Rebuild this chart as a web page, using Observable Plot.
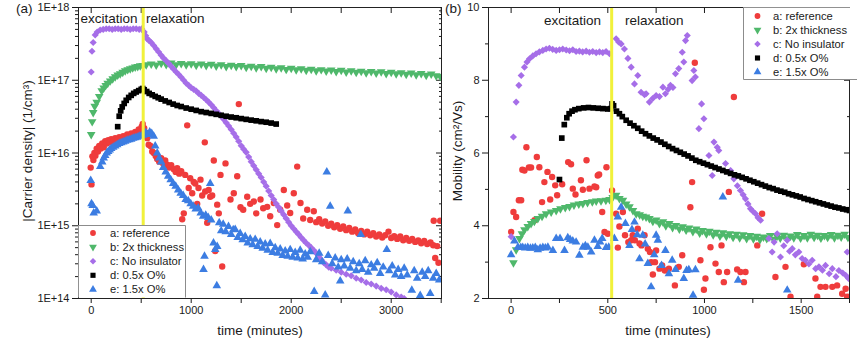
<!DOCTYPE html>
<html><head><meta charset="utf-8">
<script src="https://cdn.jsdelivr.net/npm/d3@7"></script>
<script src="https://cdn.jsdelivr.net/npm/@observablehq/plot@0.6"></script>
<style>
body{margin:0;background:#fff;}
#chart{position:relative;width:857px;height:347px;overflow:hidden;background:#fff;}
#chart svg{position:absolute;top:0;}
</style></head><body><div id="chart"></div>
<script>
// ---------- Panel (a): carrier density, [time (min), density (1/cm^3)] ----------
const densityRef = [[-5,6.3e15],[3,3.7e15],[12,9.0e15],[22,8.0e15],[32,1.0e16],[42,9.2e15],[55,1.15e16],[68,1.05e16],[80,1.25e16],[95,1.15e16],[110,1.35e16],[125,1.2e16],[140,1.45e16],[155,1.35e16],[170,1.5e16],[185,1.4e16],[200,1.55e16],[220,1.45e16],[240,1.6e16],[260,1.5e16],[280,1.65e16],[300,1.55e16],[320,1.7e16],[340,1.62e16],[360,1.8e16],[380,1.7e16],[400,1.85e16],[420,1.75e16],[440,1.95e16],[460,1.85e16],[475,2.1e16],[490,2.0e16],[505,2.3e16],[515,2.5e16],
[530,2.2e16],[545,1.9e16],[560,1.6e16],[575,1.3e16],[593,1.25e16],[610,1.05e16],[626,1.0e16],[645,9.1e15],[660,8.3e15],[680,7.6e15],[700,8.5e15],[720,7.2e15],[740,7.9e15],[760,6.9e15],[780,6.3e15],[800,6.8e15],[826,6.0e15],[845,5.5e15],[860,6.2e15],[880,5.2e15],[900,5.6e15],[910,1.23e15],[926,1.48e15],[940,5.0e15],[960,2.4e16],[975,3.3e15],[990,4.5e15],[1010,2.8e15],[1025,4.0e15],[1040,3.8e15],[1060,2.0e15],[1073,3.3e15],[1093,4.3e15],[1110,2.6e15],[1136,1.4e16],[1140,2.95e15],[1160,1.1e15],[1175,3.1e15],[1190,2.5e15],[1210,2.6e15],[1226,7.9e15],[1240,4.5e14],[1260,1.95e15],[1276,1.48e15],[1293,5.0e15],[1310,2.75e14],[1343,7.2e15],[1393,2.3e15],[1426,2.8e15],[1460,4.8e15],[1476,4.7e16],[1493,1.8e15],[1520,1.66e15],[1560,2.5e15],[1590,2.0e15],[1626,2.15e15],[1650,1.48e15],[1693,2.3e15],[1720,1.74e15],[1760,1.82e15],[1790,1.35e15],[1826,2.05e15],[1860,1.02e15],[1890,1.66e15],[1926,3.1e15],[1960,1.9e15],[1990,1.5e15],[2026,2.8e15],[2060,6.5e15],[2093,2.05e15],[2120,1.26e15],[2160,1.66e15],[2190,1.2e15],[2226,1.58e15],[2250,1.12e15],[2280,1.23e15],[2310,1.07e15],[2340,1.15e15],[2370,1.0e15],[2400,1.07e15],[2430,9.5e14],[2460,1.02e15],[2490,9.1e14],[2520,9.8e14],[2550,8.7e14],[2580,9.3e14],[2610,8.3e14],[2640,8.9e14],[2670,7.9e14],[2700,8.5e14],[2730,7.6e14],[2760,8.3e14],[2790,7.4e14],[2820,7.9e14],[2850,7.1e14],[2880,7.6e14],[2910,6.9e14],[2940,7.4e14],[2973,8.3e14],[3000,6.8e14],[3030,7.2e14],[3060,6.6e14],[3090,7.1e14],[3120,6.3e14],[3150,6.8e14],[3180,6.2e14],[3210,6.6e14],[3240,6.0e14],[3270,6.3e14],[3300,5.75e14],[3330,6.2e14],[3360,5.6e14],[3393,5.9e14],[3420,5.4e14],[3425,1.17e15],[3440,3.6e14],[3460,5.25e14],[3473,3.1e14],[3490,1.17e15]];

const densityThick = [[0,1.8e16],[10,2.7e16],[20,3.6e16],[35,4.4e16],[55,5.0e16],[80,6.0e16],[105,7.2e16],[125,7.8e16],[145,8.5e16],[165,9.1e16],[190,9.8e16],[215,1.05e17],[240,1.12e17],[265,1.18e17],[290,1.23e17],[315,1.29e17],[340,1.35e17],[365,1.4e17],[390,1.44e17],[415,1.48e17],[440,1.52e17],[465,1.55e17],[490,1.58e17],[515,1.6e17],
[550,1.63e17],[600,1.67e17],[650,1.62e17],[700,1.71e17],[750,1.65e17],[800,1.73e17],[850,1.64e17],[900,1.7e17],[950,1.63e17],[1000,1.69e17],[1050,1.61e17],[1100,1.67e17],[1150,1.59e17],[1200,1.66e17],[1250,1.57e17],[1300,1.63e17],[1350,1.55e17],[1400,1.61e17],[1450,1.54e17],[1500,1.59e17],[1550,1.51e17],[1600,1.56e17],[1650,1.49e17],[1700,1.54e17],[1750,1.46e17],[1800,1.51e17],[1850,1.44e17],[1900,1.49e17],[1950,1.41e17],[2000,1.46e17],[2050,1.39e17],[2100,1.44e17],[2150,1.37e17],[2200,1.42e17],[2250,1.35e17],[2300,1.4e17],[2350,1.34e17],[2400,1.38e17],[2450,1.32e17],[2500,1.37e17],[2550,1.3e17],[2600,1.35e17],[2650,1.29e17],[2700,1.33e17],[2750,1.27e17],[2800,1.32e17],[2850,1.26e17],[2900,1.31e17],[2950,1.24e17],[3000,1.29e17],[3050,1.23e17],[3100,1.27e17],[3150,1.21e17],[3200,1.26e17],[3250,1.19e17],[3300,1.24e17],[3350,1.17e17],[3400,1.22e17],[3450,1.15e17],[3490,1.13e17]];

const densityNoIns = [[0,1.3e17],[8,2.5e17],[20,3.3e17],[40,4.2e17],[60,4.6e17],[90,4.9e17],[120,5.0e17],[150,5.1e17],[180,5.1e17],[210,5.0e17],[240,5.1e17],[270,5.1e17],[300,5.0e17],[330,5.1e17],[360,5.1e17],[390,5.0e17],[420,5.1e17],[450,5.1e17],[480,5.0e17],[505,5.1e17],[530,4.6e17],[545,4.1e17],[560,3.7e17],[580,3.5e17],[600,3.3e17],[625,3.0e17],[650,2.7e17],[675,2.45e17],[700,2.2e17],[725,2.0e17],[750,1.85e17],[775,1.7e17],[800,1.55e17],[825,1.42e17],[850,1.3e17],[875,1.2e17],[900,1.1e17],[925,1.0e17],[950,9.1e16],[975,8.5e16],[1000,7.9e16],[1025,7.5e16],[1050,7.1e16],[1075,6.6e16],[1100,6.2e16],[1125,5.8e16],[1150,5.4e16],[1175,5.0e16],[1200,4.6e16],[1225,4.2e16],[1250,3.8e16],[1275,3.5e16],[1300,3.2e16],[1325,2.9e16],[1350,2.6e16],[1375,2.35e16],[1400,2.1e16],[1425,1.87e16],[1450,1.66e16],[1475,1.45e16],[1500,1.26e16],[1525,1.13e16],[1550,1.02e16],[1575,8.8e15],[1600,7.6e15],[1625,6.7e15],[1650,5.9e15],[1675,5.2e15],[1700,4.6e15],[1725,4.0e15],[1750,3.5e15],[1775,3.0e15],[1800,2.6e15],[1825,2.3e15],[1850,2.0e15],[1875,1.8e15],[1900,1.6e15],[1925,1.42e15],[1950,1.26e15],[1975,1.12e15],[2000,1.0e15],[2025,9.1e14],[2050,8.3e14],[2075,7.6e14],[2100,6.9e14],[2125,6.3e14],[2150,5.8e14],[2175,5.4e14],[2200,5.0e14],[2225,4.6e14],[2250,4.2e14],[2275,3.8e14],[2300,3.4e14],[2325,3.1e14],[2350,2.9e14],[2375,2.7e14],[2400,2.6e14],[2450,2.45e14],[2500,2.3e14],[2550,2.15e14],[2600,2.05e14],[2650,1.9e14],[2700,1.8e14],[2750,1.66e14],[2800,1.58e14],[2850,1.48e14],[2900,1.38e14],[2950,1.32e14],[3000,1.23e14],[3050,1.12e14],[3100,1.05e14],[3130,1.0e14]];

const densityLowO = [[265,2.3e16],[280,3.2e16],[295,3.8e16],[310,4.3e16],[330,4.8e16],[350,5.3e16],[375,5.8e16],[400,6.2e16],[425,6.6e16],[450,6.9e16],[475,7.2e16],[500,7.5e16],[515,7.7e16],[530,7.4e16],[555,7.0e16],[580,6.6e16],[610,6.3e16],[640,6.0e16],[670,5.75e16],[700,5.5e16],[740,5.2e16],[780,4.95e16],[820,4.7e16],[860,4.5e16],[900,4.35e16],[950,4.15e16],[1000,4.0e16],[1050,3.85e16],[1100,3.7e16],[1150,3.6e16],[1200,3.5e16],[1250,3.4e16],[1300,3.3e16],[1350,3.2e16],[1400,3.12e16],[1450,3.05e16],[1500,2.97e16],[1550,2.9e16],[1600,2.83e16],[1650,2.77e16],[1700,2.7e16],[1750,2.65e16],[1800,2.58e16],[1850,2.5e16]];

const densityHighO = [[-5,4.2e15],[3,2.0e15],[15,1.9e15],[25,1.5e15],[55,1.6e15],[90,6.5e15],[110,7.5e15],[125,8.5e15],[140,9.2e15],[155,1.0e16],[170,1.05e16],[185,1.1e16],[200,1.15e16],[220,1.2e16],[240,1.25e16],[260,1.3e16],[280,1.35e16],[300,1.38e16],[320,1.42e16],[340,1.45e16],[360,1.5e16],[380,1.52e16],[400,1.55e16],[420,1.6e16],[440,1.62e16],[460,1.65e16],[480,1.7e16],[500,1.72e16],[520,1.75e16],[545,1.9e16],[565,1.8e16],[585,1.95e16],[605,1.85e16],[625,1.7e16],
[640,1.25e16],[660,1.0e16],[680,8.5e15],[700,7.5e15],[720,6.3e15],[745,5.5e15],[770,4.8e15],[795,4.3e15],[820,3.8e15],[845,3.5e15],[870,3.1e15],[895,2.8e15],[920,2.6e15],[945,2.3e15],[970,2.2e15],[995,2.0e15],[1020,1.85e15],[1045,1.7e15],[1070,1.75e15],[1095,1.5e15],[1120,1.35e15],[1123,2.5e14],[1133,3.8e14],[1145,1.4e15],[1170,1.3e15],[1190,3.8e15],[1200,1.2e15],[1223,5.8e14],[1240,4.7e14],[1256,1.5e14],[1260,5.2e14],[1280,1.1e15],[1300,8.5e14],[1320,1.05e15],[1345,8.3e14],[1373,9.8e14],[1400,7.6e14],[1420,8.8e14],[1440,8.9e14],[1465,6.9e14],[1490,7.8e14],[1515,6.4e14],[1540,7.1e14],[1565,5.8e14],[1590,6.6e14],[1615,5.5e14],[1640,6.5e14],[1665,5.2e14],[1690,6.0e14],[1715,4.9e14],[1740,5.6e14],[1765,4.6e14],[1790,5.7e14],[1815,4.3e14],[1840,5.0e14],[1865,4.2e14],[1890,4.8e14],[1915,3.9e14],[1940,4.5e14],[1965,3.8e14],[1990,4.7e14],[2015,3.7e14],[2040,4.3e14],[2065,3.6e14],[2090,4.6e14],[2115,3.5e14],[2140,4.1e14],[2165,3.7e14],[2190,4.4e14],[2230,1.25e14],[2250,3.4e14],[2280,4.2e14],[2310,3.2e14],[2340,1.12e14],[2356,5.5e15],[2370,3.9e14],[2390,1.85e15],[2410,3.0e14],[2440,3.6e14],[2470,2.7e14],[2490,1.74e14],[2500,3.4e14],[2530,2.8e14],[2560,3.5e14],[2566,1.6e15],[2590,2.6e14],[2620,3.2e14],[2650,2.4e14],[2680,3.0e14],[2696,7.6e14],[2710,2.5e14],[2740,3.3e14],[2770,2.3e14],[2800,2.9e14],[2830,2.6e14],[2860,3.1e14],[2890,2.2e14],[2920,2.7e14],[2956,4.7e14],[2980,2.4e14],[3010,2.8e14],[3040,2.1e14],[3070,2.5e14],[3100,2.0e14],[3130,2.6e14],[3160,2.1e14],[3206,1.3e14],[3230,2.4e14],[3260,1.9e14],[3290,1.1e14],[3310,2.3e14],[3340,2.0e14],[3370,2.4e14],[3390,1.17e14],[3420,1.9e14],[3450,2.2e14],[3480,1.8e14]];

// ---------- Panel (b): mobility, [time (min), mobility (cm^2/Vs)] ----------
const mobilityRef = [[0,3.83],[12,4.38],[26,4.24],[40,4.7],[52,4.7],[58,5.54],[69,5.52],[79,6.16],[92,5.6],[103,5.6],[121,4.15],[133,5.89],[146,5.61],[160,4.65],[172,5.2],[188,5.48],[202,4.72],[212,5.34],[228,5.11],[238,4.84],[264,5.14],[295,5.75],[310,5.69],[319,5.02],[333,4.86],[361,5.25],[371,4.99],[390,5.8],[405,5.02],[431,5.08],[440,5.06],[448,5.38],[455,5.41],[471,4.38],[483,3.83],[493,5.61],[500,3.78],[522,4.97],[543,4.33],[552,3.4],[560,3.98],[578,4.38],[589,3.74],[606,3.55],[621,3.6],[629,3.74],[640,3.6],[655,3.92],[664,3.51],[674,3.46],[690,3.74],[707,3.37],[718,3.28],[724,3.0],[733,2.66],[744,3.0],[750,3.32],[767,2.82],[781,2.91],[795,2.77],[816,2.82],[847,2.36],[867,2.87],[885,3.19],[927,4.51],[936,5.2],[950,8.48],[979,3.05],[997,2.24],[1005,2.55],[1031,3.41],[1057,2.96],[1074,2.73],[1088,3.46],[1100,2.45],[1117,2.73],[1126,4.93],[1152,7.54],[1169,2.8],[1186,2.73],[1204,2.45],[1212,2.73],[1273,3.46],[1298,4.33],[1367,2.59],[1419,2.87],[1445,2.05],[1514,2.94],[1574,2.55],[1583,2.05],[1600,2.32],[1626,2.32],[1661,2.32],[1686,2.36],[1712,2.13],[1730,2.27],[1738,2.05]];

const mobilityThick = [[12,2.98],[26,3.34],[43,3.65],[56,3.78],[69,3.89],[86,3.98],[103,4.06],[120,4.12],[138,4.2],[160,4.26],[181,4.33],[207,4.38],[233,4.42],[255,4.47],[280,4.5],[302,4.53],[325,4.57],[350,4.6],[371,4.61],[395,4.64],[420,4.66],[440,4.68],[465,4.69],[490,4.7],[509,4.72],[525,4.78],[543,4.84],[560,4.75],[578,4.7],[595,4.6],[612,4.52],[630,4.42],[647,4.33],[665,4.3],[681,4.26],[698,4.24],[715,4.2],[733,4.12],[750,4.16],[767,4.06],[785,4.11],[800,4.0],[818,4.06],[835,3.95],[852,4.01],[870,3.91],[887,3.97],[905,3.88],[920,3.94],[940,3.84],[957,3.91],[975,3.8],[990,3.87],[1010,3.78],[1025,3.85],[1045,3.75],[1060,3.82],[1080,3.72],[1095,3.81],[1113,3.71],[1130,3.78],[1148,3.68],[1165,3.77],[1182,3.67],[1200,3.75],[1218,3.65],[1235,3.73],[1253,3.64],[1270,3.71],[1287,3.62],[1305,3.69],[1322,3.65],[1340,3.73],[1357,3.63],[1375,3.71],[1392,3.66],[1410,3.74],[1427,3.64],[1445,3.72],[1462,3.67],[1480,3.76],[1497,3.66],[1515,3.73],[1532,3.67],[1550,3.77],[1567,3.68],[1585,3.74],[1602,3.66],[1620,3.73],[1637,3.68],[1655,3.76],[1672,3.67],[1690,3.74],[1707,3.69],[1725,3.77],[1742,3.68]];

const mobilityNoIns = [[0,3.7],[12,6.44],[26,7.4],[40,7.86],[52,8.13],[69,8.36],[82,8.5],[95,8.59],[112,8.67],[129,8.73],[146,8.78],[164,8.82],[181,8.86],[198,8.88],[215,8.85],[233,8.82],[250,8.84],[267,8.86],[285,8.83],[302,8.81],[319,8.84],[336,8.79],[353,8.8],[370,8.78],[388,8.8],[405,8.77],[422,8.79],[440,8.76],[457,8.78],[474,8.76],[491,8.79],[509,8.73],[543,9.14],[556,9.05],[569,9.0],[586,8.86],[604,8.6],[621,8.36],[638,7.9],[655,8.13],[672,7.67],[690,7.6],[698,7.63],[715,7.4],[732,7.5],[750,7.58],[767,7.55],[785,7.81],[798,7.63],[812,7.75],[824,7.86],[837,7.8],[850,8.18],[867,8.32],[885,8.77],[893,8.5],[902,9.09],[911,9.23],[936,7.99],[945,8.27],[953,8.09],[971,6.67],[985,7.35],[997,6.94],[1023,5.93],[1040,5.38],[1049,6.3],[1066,6.16],[1074,6.07],[1109,5.71],[1135,5.52],[1152,5.29],[1170,5.1],[1186,4.97],[1200,4.85],[1212,4.74],[1225,4.6],[1238,4.47],[1250,4.4],[1264,4.33],[1277,4.22],[1290,4.15],[1333,3.65],[1350,3.28],[1360,3.55],[1376,3.78],[1393,3.14],[1410,3.45],[1428,3.6],[1440,3.3],[1454,3.37],[1470,3.2],[1488,3.28],[1505,3.1],[1522,3.05],[1540,2.95],[1557,3.05],[1575,2.82],[1592,2.87],[1610,2.78],[1626,2.91],[1645,2.68],[1661,2.82],[1680,2.6],[1695,2.77],[1715,2.7],[1730,2.64],[1738,3.28],[1745,2.55]];

const mobilityLowO = [[250,5.27],[262,6.41],[275,6.78],[288,6.97],[300,7.08],[315,7.15],[330,7.19],[350,7.22],[375,7.24],[400,7.25],[425,7.24],[450,7.23],[475,7.22],[500,7.21],[515,7.22],[522,7.35],[530,7.3],[545,7.15],[560,7.08],[575,7.0],[595,6.9],[615,6.82],[635,6.75],[655,6.68],[675,6.6],[695,6.53],[715,6.47],[735,6.41],[755,6.36],[775,6.3],[795,6.24],[815,6.18],[835,6.12],[855,6.07],[875,6.02],[895,5.97],[915,5.92],[935,5.86],[955,5.8],[975,5.76],[995,5.72],[1015,5.68],[1035,5.64],[1055,5.6],[1075,5.56],[1095,5.52],[1115,5.48],[1135,5.44],[1155,5.4],[1175,5.37],[1195,5.33],[1215,5.29],[1235,5.25],[1255,5.21],[1275,5.17],[1295,5.13],[1315,5.09],[1335,5.05],[1355,5.02],[1375,4.98],[1395,4.95],[1415,4.92],[1435,4.88],[1455,4.85],[1475,4.82],[1495,4.79],[1515,4.75],[1535,4.72],[1555,4.69],[1575,4.66],[1595,4.63],[1615,4.6],[1635,4.57],[1655,4.54],[1675,4.51],[1695,4.49],[1715,4.46],[1735,4.44],[1750,4.42]];

const mobilityHighO = [[0,3.2],[17,3.58],[35,3.41],[50,3.4],[60,3.4],[73,3.39],[86,3.4],[100,3.38],[112,3.39],[125,3.4],[138,3.34],[150,3.38],[164,3.4],[177,3.39],[190,3.41],[216,3.32],[233,3.65],[253,3.65],[276,3.32],[293,3.67],[305,3.62],[319,3.58],[336,3.55],[353,3.19],[371,3.41],[384,3.45],[397,3.41],[414,3.28],[431,3.6],[448,3.43],[460,3.55],[471,3.65],[491,3.4],[505,3.41],[534,3.65],[552,4.24],[569,4.51],[591,4.06],[612,3.46],[625,3.9],[638,4.1],[652,3.75],[664,3.09],[681,3.74],[693,3.5],[707,2.96],[724,2.32],[740,3.2],[750,3.74],[759,3.6],[778,2.91],[798,3.32],[816,2.68],[833,3.05],[850,2.8],[893,2.55],[907,2.77],[919,2.79],[941,2.09],[953,2.79],[1095,4.79],[1174,2.5],[1428,2.23]];

// ---------- labels, ticks, annotations ----------
const seriesLabels = ["a: reference", "b: 2x thickness", "c: No insulator", "d: 0.5x O%", "e: 1.5x O%"];
const densityTicks = [1e14, 1e15, 1e16, 1e17, 1e18];
const densityTickLabels = ["1E+14", "1E+15", "1E+16", "1E+17", "1E+18"];
const timeTicksA = [0, 1000, 2000, 3000];
const timeMinorA = [500, 1500, 2500, 3500];
const mobilityTicks = [2, 4, 6, 8, 10];
const mobilityMinor = [3, 5, 7, 9];
const timeTicksB = [0, 500, 1000, 1500];
const timeMinorB = [250, 750, 1250, 1750];
const switchTime = [520];
const phaseLabels = ["excitation", "relaxation"];

const RED = "#ef3c3c", GREEN = "#4fb86b", PURPLE = "#a66ee8", BLACK = "#000000", BLUE = "#3c7de2", YELLOW = "#f1f13a";
const FONT = "'Liberation Sans', Arial, sans-serif";
const triangleDown = { draw(context, size) { const s3 = Math.sqrt(3); const y = -Math.sqrt(size / (s3 * 3)); context.moveTo(0, -y * 2); context.lineTo(-s3 * y, y); context.lineTo(s3 * y, y); context.closePath(); } };
const styles = [
  {color: RED, symbol: "circle", d3: d3.symbolCircle},
  {color: GREEN, symbol: triangleDown, d3: triangleDown},
  {color: PURPLE, symbol: "diamond2", d3: d3.symbolDiamond2},
  {color: BLACK, symbol: "square", d3: d3.symbolSquare},
  {color: BLUE, symbol: "triangle", d3: d3.symbolTriangle}
];
const R = 3.2;
const dots = (data, i) => Plot.dot(data, {x: d => d[0], y: d => d[1], fill: styles[i].color, symbol: styles[i].symbol, r: R, stroke: "none", clip: true});

function frameAxes(xMaj, xMin, yMaj, yMin, yFmt) {
  return [
    Plot.axisX({ticks: xMaj, tickSize: 5, tickPadding: 3, tickFormat: d => String(d), label: null, fontSize: 11}),
    Plot.axisX({ticks: xMin, tickSize: 5, fill: "none", label: null}),
    Plot.axisX({anchor: "top", ticks: [...xMaj, ...xMin], tickSize: 5, dy: 5, fill: "none", label: null}),
    Plot.axisY({ticks: yMaj, tickSize: 6, tickPadding: 3, tickFormat: yFmt, label: null, fontSize: 11}),
    Plot.axisY({ticks: yMin, tickSize: 3, fill: "none", label: null}),
    Plot.axisY({anchor: "right", ticks: yMaj, tickSize: 6, dx: -6, fill: "none", label: null}),
    Plot.axisY({anchor: "right", ticks: yMin, tickSize: 3, dx: -3, fill: "none", label: null})
  ];
}

const minorLog = densityTicks.slice(0, -1).flatMap(d => [2,3,4,5,6,7,8,9].map(k => k * d));

const plotA = Plot.plot({
  width: 445, height: 347, marginLeft: 78, marginRight: 4, marginTop: 7, marginBottom: 49,
  style: {fontFamily: FONT, fontSize: "11px", color: "#1a1a1a", background: "transparent"},
  x: {domain: [-127, 3503]},
  y: {type: "log", domain: [1e14, 1e18]},
  marks: [
    ...frameAxes(timeTicksA, timeMinorA, densityTicks, minorLog, d => densityTickLabels[densityTicks.indexOf(d)]),
    dots(densityRef, 0), dots(densityThick, 1), dots(densityNoIns, 2), dots(densityLowO, 3), dots(densityHighO, 4),
    Plot.ruleX(switchTime, {stroke: YELLOW, strokeWidth: 3}),
    Plot.frame({stroke: "#222"})
  ]
});

const plotB = Plot.plot({
  width: 412, height: 347, marginLeft: 43, marginRight: 8, marginTop: 7, marginBottom: 49,
  style: {fontFamily: FONT, fontSize: "11px", color: "#1a1a1a", background: "transparent"},
  x: {domain: [-117, 1750]},
  y: {domain: [2, 10]},
  marks: [
    ...frameAxes(timeTicksB, timeMinorB, mobilityTicks, mobilityMinor, d => String(d)),
    dots(mobilityRef, 0), dots(mobilityThick, 1), dots(mobilityNoIns, 2), dots(mobilityLowO, 3), dots(mobilityHighO, 4),
    Plot.ruleX(switchTime, {stroke: YELLOW, strokeWidth: 3}),
    Plot.frame({stroke: "#222"})
  ]
});

const chart = document.getElementById("chart");
plotA.style.left = "0px";
plotB.style.left = "445px";
chart.append(plotA, plotB);

// ---------- overlay: titles, annotations, legends ----------
const svg = d3.select(chart).append("svg").attr("width", 857).attr("height", 347)
  .style("left", "0px").style("font-family", FONT).style("fill", "#1a1a1a");
const txt = (x, y, s, size, anchor = "start", rot = 0) => svg.append("text")
  .attr("transform", `translate(${x},${y}) rotate(${rot})`).attr("text-anchor", anchor)
  .attr("font-size", size).text(s);

txt(16, 12.5, "(a)", 13.5);
txt(445, 12.5, "(b)", 13.5);
txt(260, 335, "time (minutes)", 13.5, "middle");
txt(668, 335, "time (minutes)", 13.5, "middle");
txt(31.5, 151, "|Carrier density| (1/cm³)", 13.5, "middle", -90);
txt(461.5, 151, "Mobility (cm²/Vs)", 13.5, "middle", -90);
txt(80.5, 22.5, phaseLabels[0], 13.5);
txt(146, 22.5, phaseLabels[1], 13.5);
txt(544, 24.5, phaseLabels[0], 13.5);
txt(625, 25, phaseLabels[1], 13.5);

function legend(x, y, w, h, markX, textX, rowY0, step, edges) {
  svg.append("rect").attr("x", x).attr("y", y).attr("width", w).attr("height", h).attr("fill", "#fff").attr("stroke", "none");
  svg.append("path").attr("d", edges).attr("fill", "none").attr("stroke", "#8c8c8c").attr("stroke-width", 1);
  seriesLabels.forEach((s, i) => {
    const cy = rowY0 + i * step;
    svg.append("path").attr("transform", `translate(${markX},${cy})`)
      .attr("d", d3.symbol(styles[i].d3, Math.PI * 2.9 * 2.9)()).attr("fill", styles[i].color);
    svg.append("text").attr("x", textX).attr("y", cy + 4).attr("font-size", 11.2).text(s);
  });
}
legend(78.5, 225, 107, 72.5, 93, 110, 233, 14.1, "M78.5,225.5H185.5V297.5");
legend(743, 7.5, 120, 72, 757.5, 773, 16, 14, "M743.5,7.5V79.5H857");
</script></body></html>
